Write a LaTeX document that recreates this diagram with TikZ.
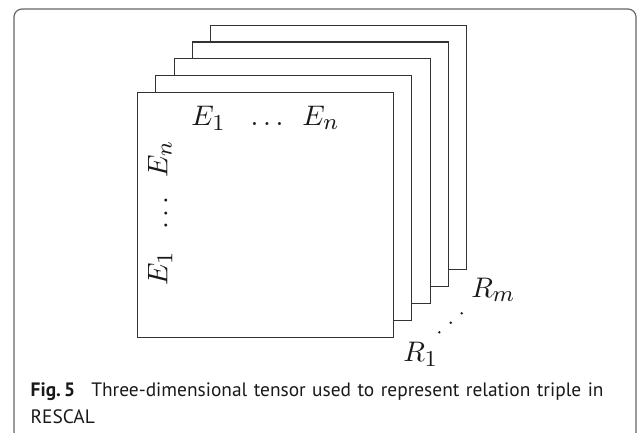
\documentclass[tikz,border=0pt]{standalone}
\usepackage{amsmath}
\usepackage{graphicx}
\usepackage{fontspec}
\setsansfont{PT Sans}
\DeclareMathSizes{10}{10}{8}{6}
\usepackage{tikz}
\usetikzlibrary{positioning,calc}

\begin{document}
\begin{tikzpicture}[
  x=1pt, y=-1pt,
  slice/.style={rectangle, draw=black!80, line width=1.1pt, fill=white, inner sep=0pt,
    minimum width=256pt, minimum height=244.6pt},
  lbl/.style={inner sep=0pt, text=black!90, font=\fontsize{10}{12}\selectfont},
  frame/.style={draw=black!60, line width=1.2pt, rounded corners=8pt},
  caption/.style={inner sep=0pt, text=black!90, text width=600pt, align=left,
    font=\sffamily\fontsize{19.4}{26.6}\selectfont}
]
  \useasboundingbox (0,0) rectangle (637,432);
  \draw[frame] (14,9) rectangle (636,440);

  % slices, back to front
  \foreach \k in {4,3,2,1,0}
    \node[slice] (slice\k) at (265.3+18.4*\k, 215-16.9*\k) {};

  \node[lbl, anchor=base] (cols) at ($(slice0.north)+(0.1,33.3)$)
    {\scalebox{2.83}{$E_1\hspace{7.1pt}\ldots\hspace{5pt}E_n$}};
  \node[lbl, rotate=90, anchor=base] (rows) at ($(slice0.west)+(30.7,-1.7)$)
    {\scalebox{2.83}{$E_1\hspace{6pt}\ldots\hspace{5pt}E_n$}};

  \node[lbl, anchor=base west] (r1) at ($(slice0.south east)+(9.2,23.4)$) {\scalebox{2.83}{$R_1$}};
  \node[lbl, anchor=base west] (rm) at ($(slice4.south east)+(3.6,27.3)$) {\scalebox{2.83}{$R_m$}};
  \foreach \p in {(439.3,332.3),(450.7,322.7),(461.7,313.3)}
    \fill[black!90] \p circle (1.35);

  \node[caption, anchor=base west] (cap) at (30.5,396.7)
    {\textbf{Fig.\,5}\hspace{0.5em} Three-dimensional tensor used to represent relation triple in\\RESCAL};
\end{tikzpicture}
\end{document}
